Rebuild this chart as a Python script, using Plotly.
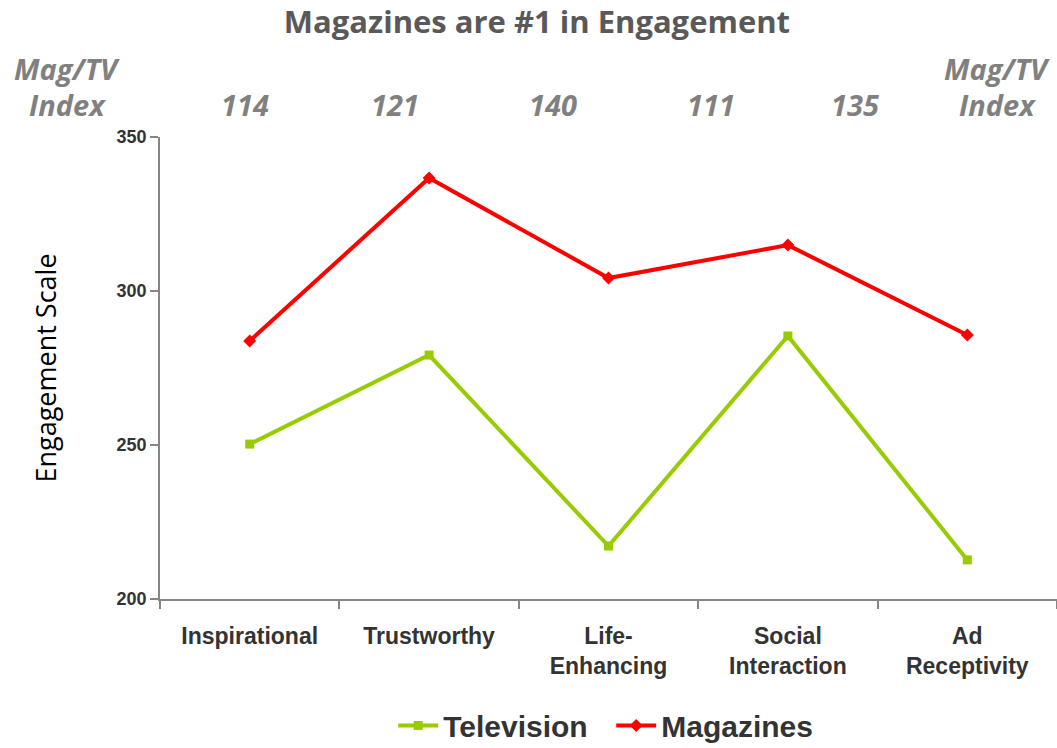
import plotly.graph_objects as go

categories = ["Inspirational", "Trustworthy", "Life-Enhancing", "Social Interaction", "Ad Receptivity"]
tick_labels = ["Inspirational", "Trustworthy", "Life-<br>Enhancing", "Social<br>Interaction", "Ad<br>Receptivity"]
television = [250.3, 279.2, 217.2, 285.4, 212.7]
magazines = [283.8, 336.7, 304.2, 314.9, 285.7]
mag_tv_index = ["114", "121", "140", "111", "135"]

W, H = 1057, 748
ML, MR, MT, MB = 160, 0, 137, 149
PW, PH = W - ML - MR, H - MT - MB

# horizontal placement of the index header row (page pixels)
index_px = [245, 395, 553, 711, 855]
side_px = [67, 997]

fig = go.Figure()
fig.add_trace(go.Scatter(
    x=categories, y=television, name="Television", mode="lines+markers",
    line=dict(color="#99cc00", width=4),
    marker=dict(symbol="square", size=9, color="#99cc00"),
))
fig.add_trace(go.Scatter(
    x=categories, y=magazines, name="Magazines", mode="lines+markers",
    line=dict(color="#ff0000", width=4),
    marker=dict(symbol="diamond", size=10, color="#ff0000"),
))

idx_font = dict(family="Open Sans", size=29, color="#808080", weight="bold", style="italic")


def header(px, py, text):
    fig.add_annotation(x=(px - ML) / PW, y=1 + (MT - py) / PH,
                       xref="paper", yref="paper",
                       text=text, showarrow=False, font=idx_font,
                       xanchor="center", yanchor="middle")


for xp, val in zip(index_px, mag_tv_index):
    header(xp, 105, val)
for xp in side_px:
    header(xp, 68, "Mag/TV")
    header(xp, 105, "Index")

fig.update_layout(
    width=W, height=H,
    margin=dict(l=ML, r=MR, t=MT, b=MB),
    paper_bgcolor="white", plot_bgcolor="white",
    title=dict(text="Magazines are #1 in Engagement", x=0.508, xanchor="center",
               xref="container", y=0.97, yanchor="middle",
               font=dict(family="Open Sans", size=31, color="#595959", weight="bold")),
    showlegend=True,
    legend=dict(orientation="h", x=0.372, xanchor="left", xref="container",
                y=0.03, yanchor="middle", yref="container",
                font=dict(family="Liberation Sans", size=30, color="#333333", weight="bold"),
                itemwidth=40, entrywidth=163, entrywidthmode="pixels",
                tracegroupgap=0),
    xaxis=dict(
        type="category", tickson="boundaries", ticks="outside", ticklen=8,
        tickcolor="#868686", tickwidth=1.5,
        showline=True, linecolor="#868686", linewidth=1.5, showgrid=False,
        range=[-0.5, 4.5], ticklabelstandoff=16,
        tickvals=categories, ticktext=tick_labels,
        tickfont=dict(family="Liberation Sans", size=23, color="#333333", weight="bold"),
    ),
    yaxis=dict(
        range=[200, 350], tickvals=[200, 250, 300, 350],
        ticks="outside", ticklen=8, tickcolor="#868686", tickwidth=1.5,
        showline=True, linecolor="#868686", linewidth=1.5, showgrid=False,
        zeroline=False,
        tickfont=dict(family="Liberation Sans", size=18, color="#333333", weight="bold"),
        title=dict(text="Engagement Scale",
                   font=dict(family="Open Sans", size=27, color="#000000"),
                   standoff=52),
    ),
)

fig.write_html("out.html")
